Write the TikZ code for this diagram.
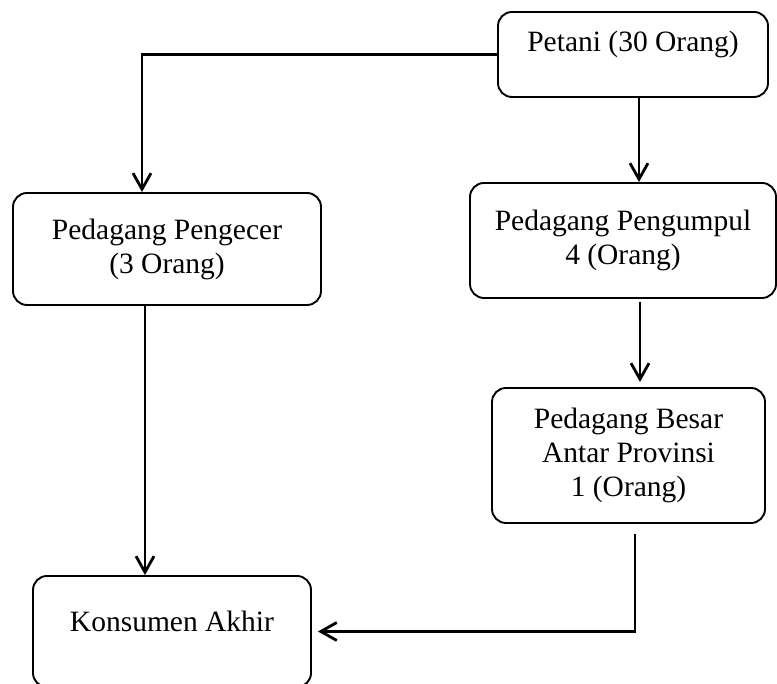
\documentclass[tikz,border=0pt]{standalone}
\usepackage{fontspec}
\setmainfont{Liberation Serif}
\usetikzlibrary{arrows.meta}

\begin{document}
\begin{tikzpicture}[x=1pt,y=1pt,
  box/.style={draw=black, line width=1.9pt, rounded corners=14pt, align=center, inner xsep=0pt, inner ysep=0pt, font=\fontsize{29.5}{34}\selectfont},
  flow/.style={line width=2.8pt, -{Straight Barb[length=16pt, width=18pt]}}]
\useasboundingbox (0,0) rectangle (777,684);
\node[box, minimum width=270pt, text height=40pt, text depth=45pt] (petani) at (633,629.5) {Petani (30 Orang)};
\node[box, minimum width=308pt, minimum height=112pt] (pengecer) at (167,435) {Pedagang Pengecer\\(3 Orang)};
\node[box, minimum width=306pt, minimum height=115pt] (pengumpul) at (623,443.5) {Pedagang Pengumpul\\4 (Orang)};
\node[box, minimum width=273pt, minimum height=135pt] (besar) at (628.5,228.5) {Pedagang Besar\\Antar Provinsi\\1 (Orang)};
\node[box, minimum width=278pt, text height=56pt, text depth=55pt] (konsumen) at (172,52.5) {Konsumen Akhir};
\draw[flow] (petani.west) -| ([xshift=-25pt]pengecer.north);
\draw[flow] ([xshift=6pt]petani.south) -- ([xshift=6pt]petani.south |- pengumpul.north);
\draw[flow, shorten <=3pt, shorten >=5pt] ([xshift=17pt]pengumpul.south) -- ([xshift=17pt]pengumpul.south |- besar.north);
\draw[flow] ([xshift=-22pt]pengecer.south) -- ([xshift=-22pt]pengecer.south |- konsumen.north);
\draw[flow, shorten >=6pt] ([xshift=6.5pt,yshift=-10pt]besar.south) |- (konsumen.east);
\end{tikzpicture}
\end{document}
